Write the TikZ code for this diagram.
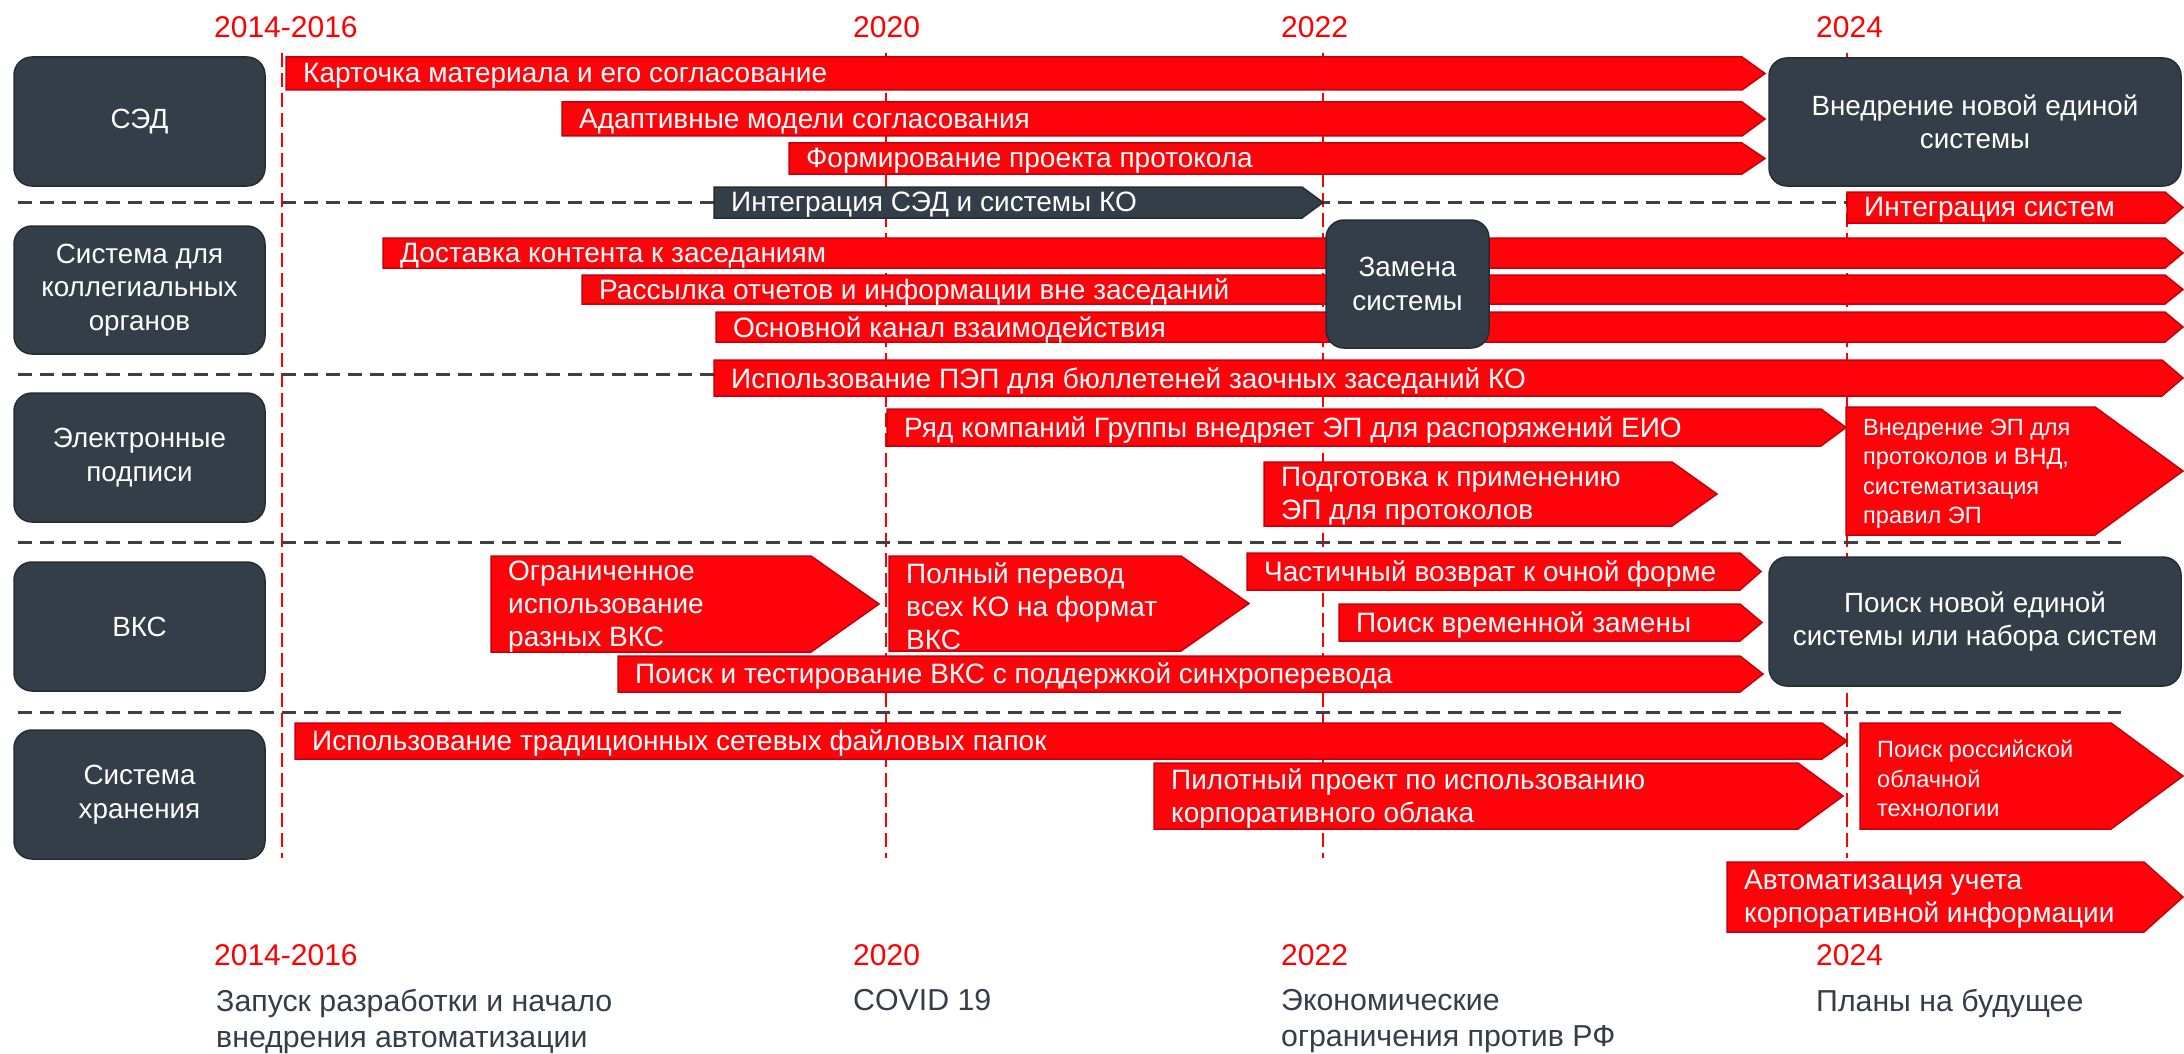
\documentclass[tikz,border=0pt]{standalone}
\usepackage{fontspec}
\setmainfont{Liberation Sans}
\definecolor{barred}{RGB}{254,4,10}
\definecolor{bardark}{RGB}{196,0,12}
\definecolor{slate}{RGB}{52,62,72}
\definecolor{slatedark}{RGB}{36,44,52}
\definecolor{dashgrey}{RGB}{64,64,64}
\newcommand{\tlbar}[9]{%
  \filldraw[#1] (#4,#7) -- (#5,#7) -- (#6,{(#7+#8)/2}) -- (#5,#8) -- (#4,#8) -- cycle;
  \node[bartext,#2,anchor=west] (#3) at (#4,{(#7+#8)/2}) {#9};}
\begin{document}
\begin{tikzpicture}[x=1pt,y=-1pt,
  redbar/.style={fill=barred,draw=bardark,line width=1.5pt},
  slatebar/.style={fill=slate,draw=slatedark,line width=1.5pt},
  bartext/.style={text=white,align=left,inner xsep=17pt,inner ysep=0pt,yshift=-2.5pt,font=\fontsize{28}{33}\selectfont},
  small/.style={font=\fontsize{23.5}{29.5}\selectfont},
  sysbox/.style={rounded corners=18pt,fill=slate,draw=slatedark,line width=1.5pt,text=white,align=center,font=\fontsize{27.8}{33.5}\selectfont},
  yearline/.style={red,line width=2.5pt,dash pattern=on 14pt off 6pt},
  sepline/.style={dashgrey,line width=3pt,dash pattern=on 14pt off 8pt},
  yearlabel/.style={text=red,inner sep=0pt,anchor=base west,font=\fontsize{30}{36}\selectfont},
  desclabel/.style={text=slate,inner sep=0pt,anchor=north west,align=left,font=\fontsize{30.3}{36}\selectfont}]
\useasboundingbox (0,0) rectangle (2184,1054);
\foreach \x in {282,886,1323,1847} \draw[yearline] (\x,53) -- (\x,858);
\foreach \y in {202,374,542,712} \draw[sepline] (18,\y) -- (2121,\y);
\foreach \x/\yr/\n in {214/2014-2016/a,853/2020/b,1281/2022/c,1816/2024/d}{
  \node[yearlabel] (top\n) at (\x,38) {\yr};
  \node[yearlabel] (bot\n) at (\x,965) {\yr};}
\node[desclabel] (desca) at (216,989) {Запуск разработки и начало\\внедрения автоматизации};
\node[desclabel] (descb) at (853,989) {COVID 19};
\node[desclabel] (descc) at (1281,989) {Экономические\\ограничения против РФ};
\node[desclabel] (descd) at (1816,989) {Планы на будущее};
\tlbar{redbar}{}{card}{286}{1742}{1765}{57}{90}{Карточка материала и его согласование}
\tlbar{redbar}{}{adapt}{562}{1742}{1765}{102}{136}{Адаптивные модели согласования}
\tlbar{redbar}{}{draft}{789}{1742}{1765}{143}{174}{Формирование проекта протокола}
\tlbar{slatebar}{}{integ}{714}{1302}{1323}{187}{218}{Интеграция СЭД и системы КО}
\tlbar{redbar}{}{integsys}{1847}{2165}{2183}{192}{223}{Интеграция систем}
\tlbar{redbar}{}{deliver}{383}{2165}{2183}{238}{268}{Доставка контента к заседаниям}
\tlbar{redbar}{}{mailing}{582}{2165}{2183}{275}{304}{Рассылка отчетов и информации вне заседаний}
\tlbar{redbar}{}{channel}{716}{2165}{2183}{312}{342}{Основной канал взаимодействия}
\tlbar{redbar}{}{pep}{714}{2162}{2183}{360}{396}{Использование ПЭП для бюллетеней заочных заседаний КО}
\tlbar{redbar}{}{eio}{887}{1821}{1846}{409}{446}{Ряд компаний Группы внедряет ЭП для распоряжений ЕИО}
\tlbar{redbar}{}{prep}{1264}{1672}{1717}{462}{526}{Подготовка к применению\\ЭП для протоколов}
\tlbar{redbar}{small}{epvnd}{1846}{2095}{2183}{407}{535}{Внедрение ЭП для\\протоколов и ВНД,\\систематизация\\правил ЭП}
\tlbar{redbar}{}{limited}{491}{811}{879}{556}{652}{Ограниченное\\использование\\разных ВКС}
\tlbar{redbar}{}{fullvks}{889}{1181}{1249}{556}{651}{Полный перевод\\всех КО на формат\\ВКС}
\tlbar{redbar}{}{partial}{1247}{1740}{1761}{553}{590}{Частичный возврат к очной форме}
\tlbar{redbar}{}{temp}{1339}{1740}{1762}{604}{641}{Поиск временной замены}
\tlbar{redbar}{}{synch}{618}{1740}{1763}{656}{692}{Поиск и тестирование ВКС с поддержкой синхроперевода}
\tlbar{redbar}{}{folders}{295}{1822}{1847}{723}{759}{Использование традиционных сетевых файловых папок}
\tlbar{redbar}{}{cloud}{1154}{1798}{1843}{763}{829}{Пилотный проект по использованию\\корпоративного облака}
\tlbar{redbar}{small}{rucloud}{1860}{2111}{2183}{723}{829}{Поиск российской\\облачной\\технологии}
\tlbar{redbar}{}{autom}{1727}{2144}{2183}{862}{932}{Автоматизация учета\\корпоративной информации}
\node[sysbox,minimum width=251pt,minimum height=129pt] (sed) at (139.5,121.5) {СЭД};
\node[sysbox,minimum width=251pt,minimum height=128pt] (colleg) at (139.5,290) {Система для\\коллегиальных\\органов};
\node[sysbox,minimum width=251pt,minimum height=129pt] (esign) at (139.5,457.5) {Электронные\\подписи};
\node[sysbox,minimum width=251pt,minimum height=129pt] (vks) at (139.5,626.5) {ВКС};
\node[sysbox,minimum width=251pt,minimum height=129pt] (storage) at (139.5,794.5) {Система\\хранения};
\node[sysbox,minimum width=412pt,minimum height=128pt] (newsys) at (1975,122) {Внедрение новой единой\\системы};
\node[sysbox,minimum width=163pt,minimum height=128pt] (replace) at (1407.5,284) {Замена\\системы};
\node[sysbox,minimum width=412pt,minimum height=129pt] (newset) at (1975,621.5) {Поиск новой единой\\системы или набора систем};
\end{tikzpicture}
\end{document}
